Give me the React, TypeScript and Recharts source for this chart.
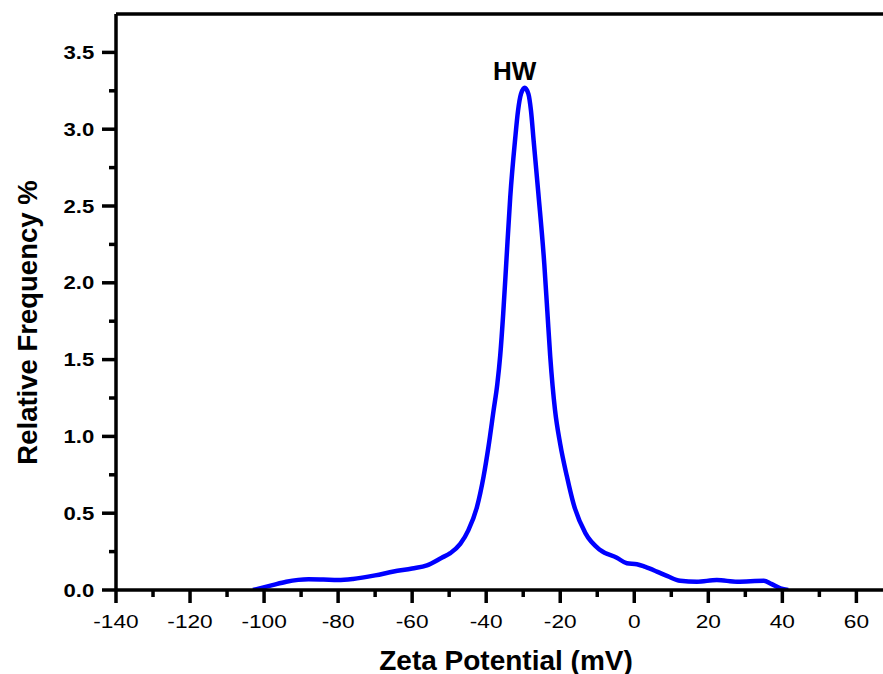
import { LineChart, Line, XAxis, YAxis, ReferenceLine, ReferenceDot } from "recharts";

const zeta = [
  -103, -98, -94, -88, -84, -80, -76, -70, -65, -60, -56, -52, -49.7, -47, -44.8, -42.5, -40.7,
  -39.4, -38, -37, -36.2, -35.4, -34.6, -33.5, -32.2, -31.4, -30.6, -29.6, -28.6, -27.9, -27.2,
  -25.9, -24.3, -23.5, -22.7, -21.4, -20, -18.2, -16.4, -13.2, -9.2, -4.7, -2, 0.7, 3, 6.1, 9,
  12.4, 16.9, 22.3, 27.8, 35, 37, 39.5, 41.6,
];
const freq = [
  0, 0.03, 0.054, 0.07, 0.068, 0.065, 0.072, 0.095, 0.12, 0.14, 0.16, 0.21, 0.24, 0.3, 0.39, 0.54,
  0.74, 0.93, 1.17, 1.34, 1.53, 1.8, 2.12, 2.56, 2.93, 3.12, 3.23, 3.27, 3.23, 3.12, 2.93, 2.58,
  2.12, 1.82, 1.52, 1.17, 0.95, 0.74, 0.56, 0.37, 0.26, 0.21, 0.174, 0.168, 0.15, 0.12, 0.09, 0.06,
  0.054, 0.065, 0.054, 0.06, 0.04, 0.01, 0,
];

const xTicks = [-140, -130, -120, -110, -100, -90, -80, -70, -60, -50, -40, -30, -20, -10, 0, 10, 20, 30, 40, 50, 60];
const yTicks = [0, 0.25, 0.5, 0.75, 1, 1.25, 1.5, 1.75, 2, 2.25, 2.5, 2.75, 3, 3.25, 3.5];

const data = zeta.map((z, i) => ({ zeta: z, freq: freq[i] }));

const FONT = "Arial, 'Liberation Sans', sans-serif";

function XTick({ x, y, payload }: any) {
  const v = payload.value;
  const major = v % 20 === 0;
  return (
    <g>
      <line x1={x} y1={y} x2={x} y2={y + (major ? 13 : 7)} stroke="#000" strokeWidth={3.5} />
      {major && (
        <text
          transform={`translate(${x},${y + 38.3}) scale(1.22,1)`}
          textAnchor="middle"
          fontSize={18.6}
          fontFamily={FONT}
          fill="#000"
        >
          {v}
        </text>
      )}
    </g>
  );
}

function YTick({ x, y, payload }: any) {
  const v = payload.value;
  const major = Math.abs(v * 2 - Math.round(v * 2)) < 1e-6;
  return (
    <g>
      <line x1={x - (major ? 14 : 7)} y1={y} x2={x} y2={y} stroke="#000" strokeWidth={3.5} />
      {major && (
        <text
          transform={`translate(${x - 21.7},${y + 6.6}) scale(1.25,1)`}
          textAnchor="end"
          fontSize={17.7}
          fontWeight="bold"
          fontFamily={FONT}
          fill="#000"
        >
          {v.toFixed(1)}
        </text>
      )}
    </g>
  );
}

function XTitle() {
  return (
    <text x={506} y={669.5} textAnchor="middle" fontSize={28} fontWeight="bold" fontFamily={FONT} fill="#000">
      Zeta Potential (mV)
    </text>
  );
}

function YTitle() {
  return (
    <text
      transform="translate(36.5,322.5) rotate(-90)"
      textAnchor="middle"
      fontSize={27.5}
      fontWeight="bold"
      fontFamily={FONT}
      fill="#000"
    >
      Relative Frequency %
    </text>
  );
}

export default function App() {
  return (
    <div style={{ position: "fixed", left: 0, top: 0, width: 883, height: 674, overflow: "hidden", background: "#fff" }}>
      <LineChart width={886} height={674} data={data} margin={{ top: 14, right: 0, bottom: 0, left: 0 }}>
        <XAxis
          dataKey="zeta"
          type="number"
          domain={[-140, 68]}
          ticks={xTicks}
          interval={0}
          allowDataOverflow
          height={84}
          tickSize={0}
          tickMargin={0}
          tickLine={false}
          tick={<XTick />}
          axisLine={{ stroke: "#000", strokeWidth: 3.5 }}
          label={<XTitle />}
        />
        <YAxis
          type="number"
          domain={[0, 3.75]}
          ticks={yTicks}
          interval={0}
          allowDataOverflow
          width={116}
          tickSize={0}
          tickMargin={0}
          tickLine={false}
          tick={<YTick />}
          axisLine={{ stroke: "#000", strokeWidth: 3.5 }}
          label={<YTitle />}
        />
        <ReferenceLine y={3.75} stroke="#000" strokeWidth={3.5} />
        <Line
          type="monotone"
          dataKey="freq"
          stroke="#0000ff"
          strokeWidth={4.5}
          dot={false}
          isAnimationActive={false}
        />
        <ReferenceDot
          x={-32.3}
          y={3.38}
          r={0}
          fill="none"
          stroke="none"
          label={{
            value: "HW",
            position: "center",
            style: { fontSize: 26, fontWeight: "bold", fontFamily: FONT, fill: "#000" },
          }}
        />
      </LineChart>
    </div>
  );
}
